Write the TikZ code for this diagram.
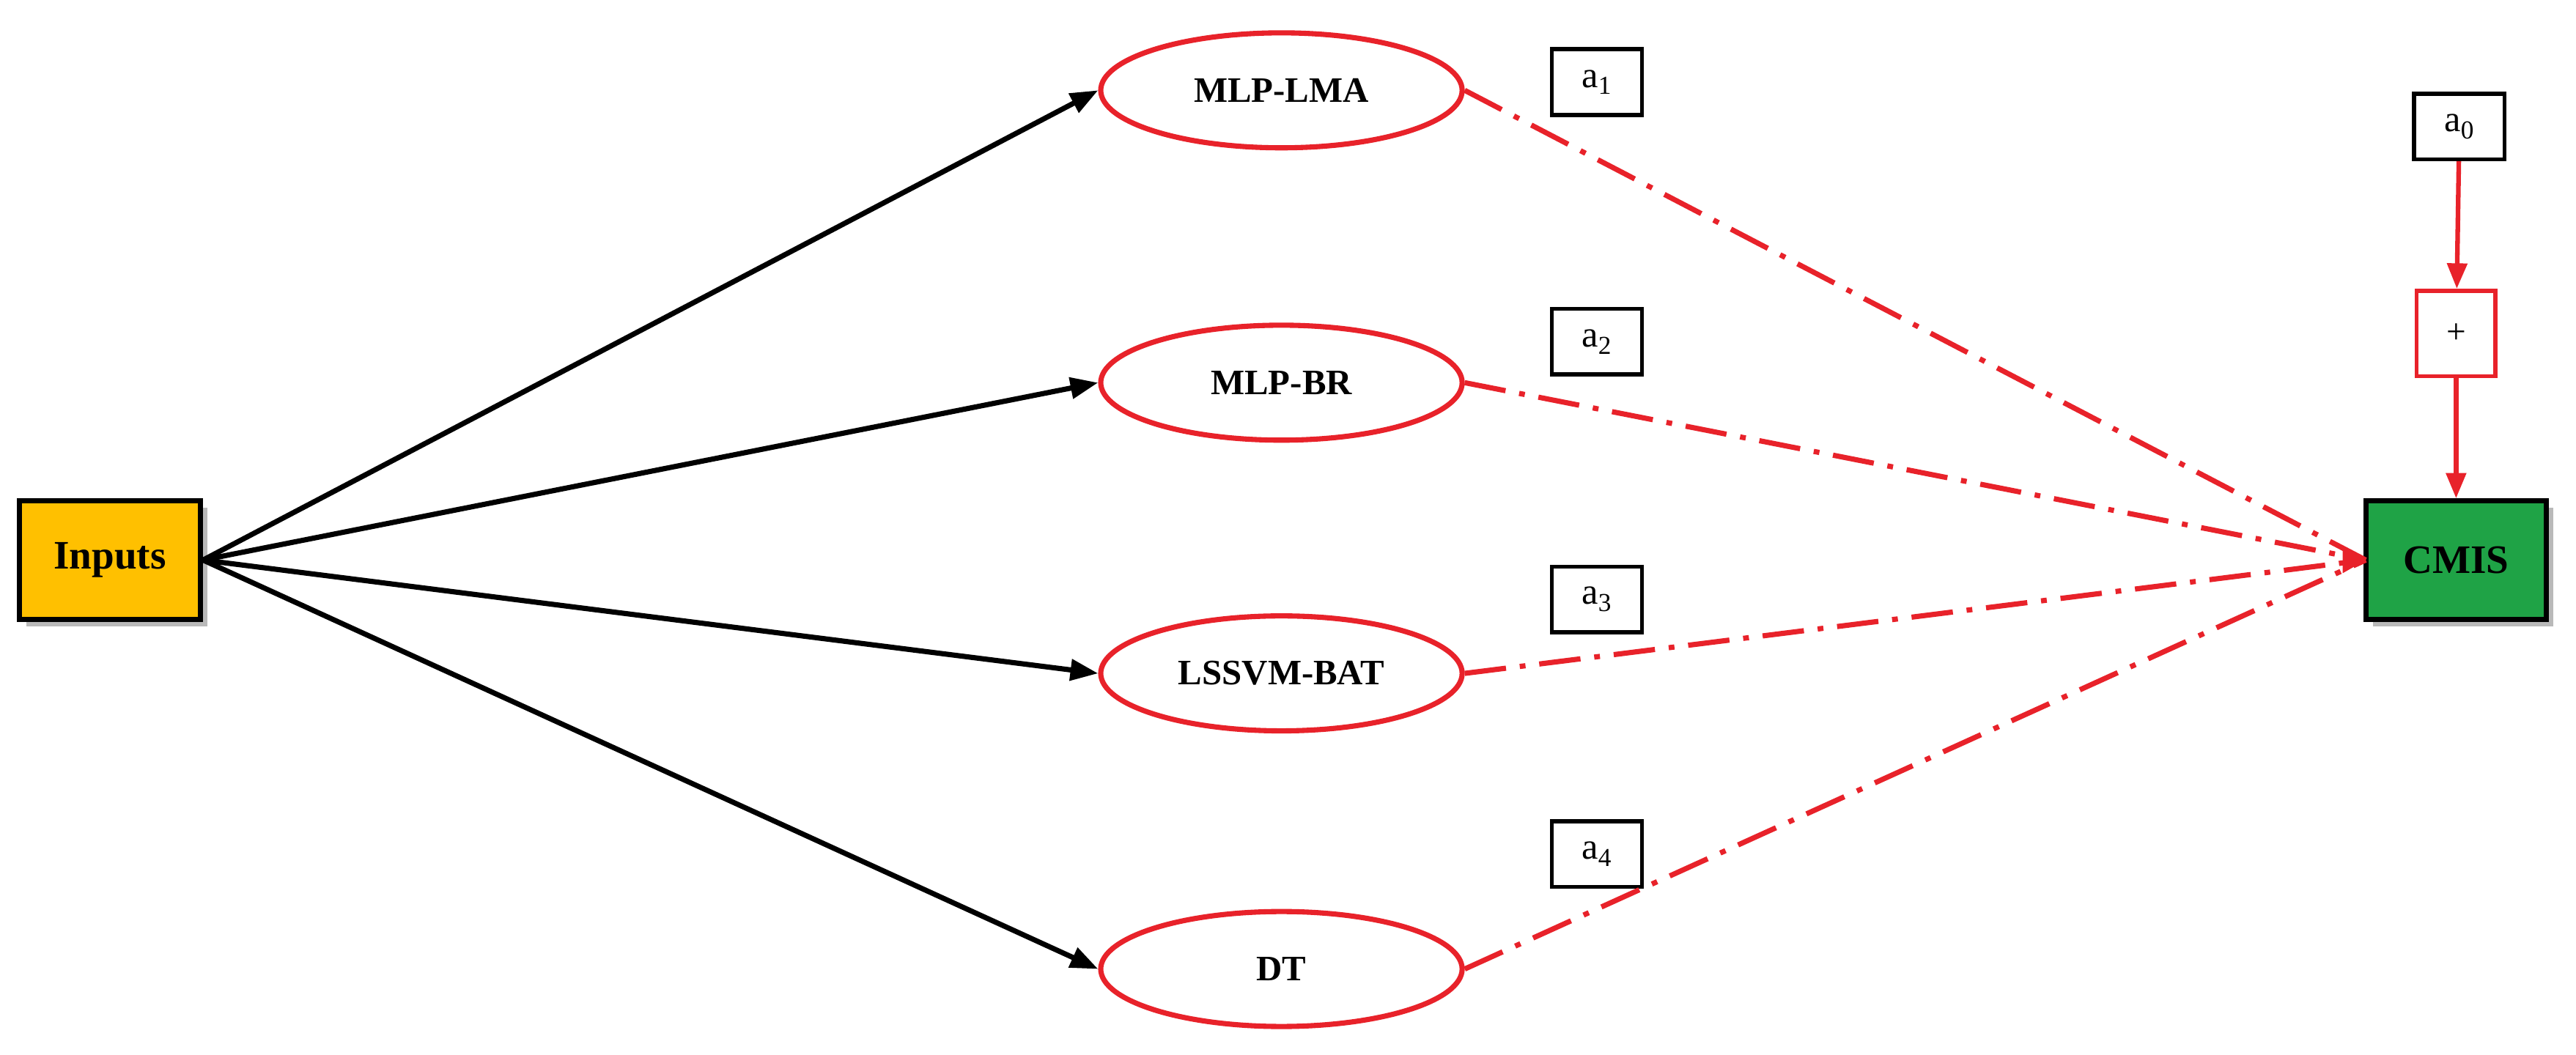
\documentclass[tikz,border=0pt]{standalone}
\usepackage{fontspec}
\setmainfont{Liberation Serif}
\usetikzlibrary{arrows.meta,shadows,shapes.geometric}
\definecolor{inp}{HTML}{FFC000}
\definecolor{cmi}{HTML}{1FA346}
\definecolor{rd}{HTML}{E8222A}
\begin{document}
\begin{tikzpicture}[x=0.05cm,y=-0.05cm,
  model/.style={ellipse,draw=rd,line width=4.5pt,minimum width=11cm,minimum height=3.5cm,font=\fontsize{31}{33}\selectfont\bfseries},
  coef/.style={draw=black,line width=3.5pt,minimum width=2.75cm,minimum height=2cm,font=\fontsize{32}{34}\selectfont},
  term/.style={draw=black,line width=4.5pt,minimum width=5.5cm,minimum height=3.6cm,font=\fontsize{35}{37}\selectfont\bfseries,drop shadow={shadow xshift=6pt,shadow yshift=-6pt,fill=black!55}},
  blk/.style={-{Triangle[length=24pt,width=18pt]},line width=4.5pt},
  dd/.style={rd,line width=4.5pt,dash pattern=on 36pt off 12pt on 5pt off 12pt},
  rr/.style={rd,line width=4pt,-{Triangle[length=22pt,width=17pt]}}]
\useasboundingbox (0,0) rectangle (1568,642);
\node[term,fill=inp] (in) at (67,341) {Inputs};
\node[term,fill=cmi] (cm) at (1495,341) {CMIS};
\node[model] (m1) at (780,55) {MLP-LMA};
\node[model] (m2) at (780,233) {MLP-BR};
\node[model] (m3) at (780,410) {LSSVM-BAT};
\node[model] (m4) at (780,590) {DT};
\node[coef] (a1) at (972,50) {a\textsubscript{1}};
\node[coef] (a2) at (972,208) {a\textsubscript{2}};
\node[coef] (a3) at (972,365) {a\textsubscript{3}};
\node[coef] (a4) at (972,520) {a\textsubscript{4}};
\node[coef] (a0) at (1497,77) {a\textsubscript{0}};
\node[draw=rd,line width=3.5pt,minimum width=2.4cm,minimum height=2.6cm,font=\fontsize{30}{32}\selectfont] (p) at (1495,203) {+};
\coordinate (c) at (1440,341);
\foreach \m in {m1,m2,m3,m4} \draw[blk] (in.east) -- (\m.west);
\foreach \m in {m1,m2,m3,m4} \draw[dd] (\m.east) -- (c);
\fill[rd] (c) -- ++(-14,-8) -- ++(0,16) -- cycle;
\draw[rr] (a0) -- (p);
\draw[rr] (p) -- (cm);
\end{tikzpicture}
\end{document}
